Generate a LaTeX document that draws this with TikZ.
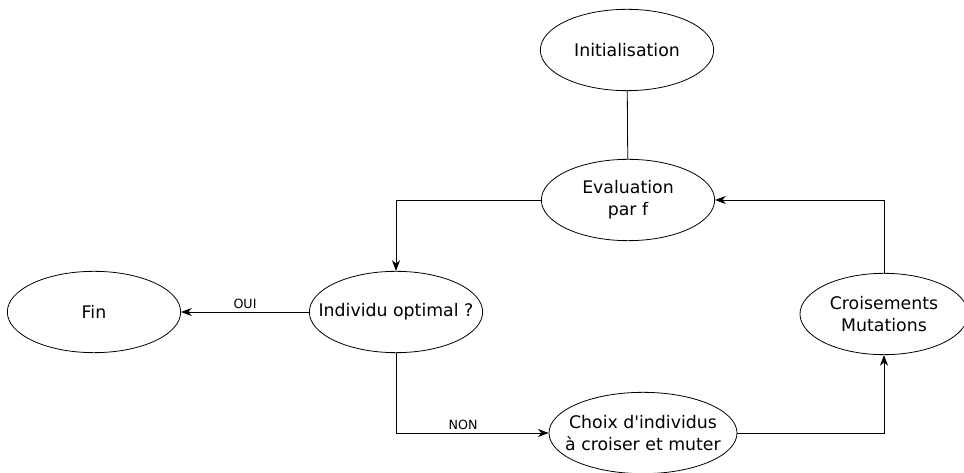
\documentclass[tikz,border=0pt]{standalone}
\usepackage{fontspec}
\setmainfont{DejaVu Sans}
\usetikzlibrary{arrows.meta, shapes.geometric}

\tikzstyle{bulle}=[draw, ellipse, minimum width = 130pt, minimum height = 61pt, inner ysep = 0pt, inner xsep = -13pt, align=center, font=\fontsize{13}{16.5}\selectfont]
\tikzstyle{fleche}=[-{Stealth[length=8pt, width=6pt, inset=2.5pt]}, line width = 0.6pt]

\begin{document}
\begin{tikzpicture}[
        x=0.75pt, y=-0.75pt,
        every path/.style={line width = 0.6pt},
        etiquette/.style={font=\fontsize{9.5}{10}\selectfont, inner sep = 2pt}
    ]
    \useasboundingbox (0,0) rectangle (964,473);

    \node[bulle] (init) at (627,50) {Initialisation};
    \node[bulle] (eval) at (628,200) {Evaluation\\par f};
    \node[bulle] (indiv) at (396,312) {Individu optimal ?};
    \node[bulle] (fin) at (94,312) {Fin};
    \node[bulle, minimum width = 126pt] (crois) at (884,314) {Croisements\\Mutations};
    \node[bulle, minimum width = 141pt] (choix) at (643,433) {Choix d\textquotesingle individus\\à croiser et muter};

    \draw (init) -- (eval);
    \draw[fleche] (eval.west) -| (indiv.north);
    \draw[fleche] (indiv.west) -- node[etiquette, above] {OUI} (fin.east);
    \draw[fleche] (indiv.south) |- node[etiquette, above, pos=0.72] {NON} (choix.west);
    \draw[fleche] (choix.east) -| (crois.south);
    \draw[fleche] (crois.north) |- (eval.east);

\end{tikzpicture}
\end{document}
